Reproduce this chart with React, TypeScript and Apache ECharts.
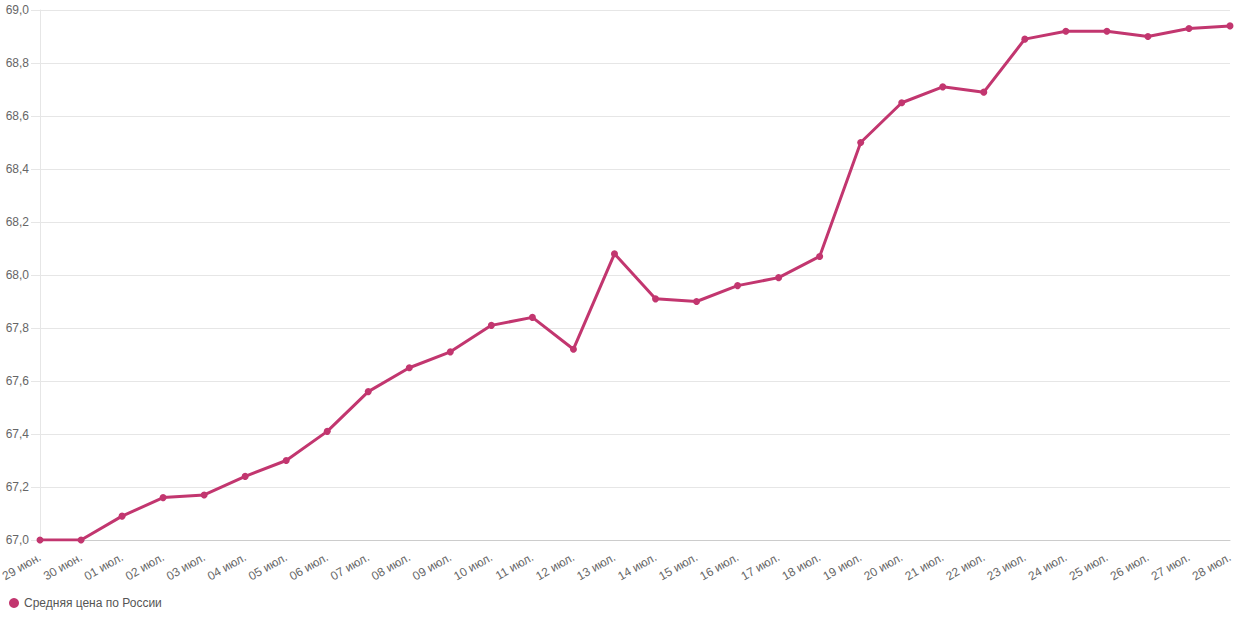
import React, { useEffect, useRef } from "react";
import * as echarts from "echarts";

const categories = [
  "29 июн.", "30 июн.", "01 июл.", "02 июл.", "03 июл.", "04 июл.", "05 июл.", "06 июл.",
  "07 июл.", "08 июл.", "09 июл.", "10 июл.", "11 июл.", "12 июл.", "13 июл.", "14 июл.",
  "15 июл.", "16 июл.", "17 июл.", "18 июл.", "19 июл.", "20 июл.", "21 июл.", "22 июл.",
  "23 июл.", "24 июл.", "25 июл.", "26 июл.", "27 июл.", "28 июл.",
];

const prices = [
  67.0, 67.0, 67.09, 67.16, 67.17, 67.24, 67.3, 67.41,
  67.56, 67.65, 67.71, 67.81, 67.84, 67.72, 68.08, 67.91,
  67.9, 67.96, 67.99, 68.07, 68.5, 68.65, 68.71, 68.69,
  68.89, 68.92, 68.92, 68.9, 68.93, 68.94,
];

const seriesName = "Средняя цена по России";
const lineColor = "#c2366f";

export default function App() {
  const ref = useRef<HTMLDivElement>(null);
  useEffect(() => {
    if (!ref.current) return;
    const chart = echarts.init(ref.current, undefined, { renderer: "svg" });
    chart.setOption({
      animation: false,
      textStyle: { fontFamily: "Liberation Sans, Arial, sans-serif" },
      grid: {
        left: 40,
        right: 10,
        top: 10,
        bottom: 80,
        containLabel: false,
        outerBoundsMode: "none",
      },
      legend: {
        left: 4,
        top: 592,
        icon: "circle",
        itemWidth: 10,
        itemHeight: 10,
        itemGap: 10,
        textStyle: { color: "#555", fontSize: 12 },
        data: [seriesName],
      },
      xAxis: {
        type: "category",
        data: categories,
        boundaryGap: false,
        axisLine: { lineStyle: { color: "#ccc" } },
        axisTick: { show: false },
        axisLabel: { rotate: 30, color: "#666", fontSize: 12, interval: 0, margin: 16 },
      },
      yAxis: {
        type: "value",
        min: 67,
        max: 69,
        interval: 0.2,
        axisLine: { show: true, lineStyle: { color: "#e6e6e6" } },
        axisTick: { show: true, length: 9, lineStyle: { color: "#e6e6e6" } },
        splitLine: { lineStyle: { color: "#e6e6e6" } },
        axisLabel: {
          color: "#666",
          fontSize: 12,
          margin: 11,
          formatter: (v: number) => v.toFixed(1).replace(".", ","),
        },
      },
      series: [
        {
          name: seriesName,
          type: "line",
          data: prices,
          symbol: "circle",
          symbolSize: 7,
          itemStyle: { color: lineColor },
          lineStyle: { color: lineColor, width: 3 },
        },
      ],
    });
    return () => chart.dispose();
  }, []);
  return <div ref={ref} style={{ width: 1240, height: 620, position: "absolute", left: 0, top: 0 }} />;
}
